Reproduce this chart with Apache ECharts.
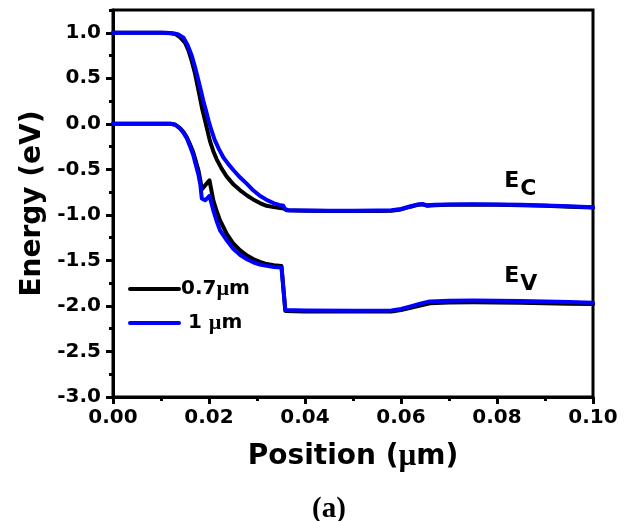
<!DOCTYPE html>
<html>
<head>
<meta charset="utf-8">
<script src="https://cdn.jsdelivr.net/npm/echarts@6/dist/echarts.min.js"></script>
<style>
  html, body { margin: 0; padding: 0; background: #fff; }
  #chart { width: 632px; height: 521px; }
</style>
</head>
<body>
<div id="chart"></div>
<script>
// Band edges across the device: [position (µm), energy (eV)]
const ecThin = [
  [0, 1.0], [0.010, 1.0], [0.012, 0.995], [0.013, 0.985], [0.014, 0.95], [0.015, 0.89],
  [0.0157, 0.81], [0.0164, 0.69], [0.0171, 0.55], [0.0176, 0.42], [0.0181, 0.29],
  [0.0186, 0.16], [0.0192, 0.03], [0.0197, -0.08], [0.0202, -0.19], [0.0209, -0.30],
  [0.0216, -0.39], [0.0226, -0.49], [0.0237, -0.58], [0.025, -0.66], [0.0265, -0.73],
  [0.028, -0.79], [0.0292, -0.83], [0.0306, -0.87], [0.032, -0.90], [0.0335, -0.915],
  [0.0348, -0.925], [0.0356, -0.93], [0.0362, -0.95], [0.040, -0.955], [0.045, -0.958],
  [0.050, -0.958], [0.055, -0.957], [0.058, -0.955], [0.060, -0.94], [0.062, -0.91],
  [0.0635, -0.89], [0.0645, -0.885], [0.0655, -0.90], [0.067, -0.895], [0.070, -0.89],
  [0.075, -0.888], [0.080, -0.89], [0.085, -0.895], [0.090, -0.90], [0.095, -0.91],
  [0.100, -0.92]
];
const evThin = [
  [0, 0], [0.012, 0], [0.013, -0.01], [0.014, -0.05], [0.0147, -0.09], [0.0154, -0.15],
  [0.016, -0.22], [0.0167, -0.31], [0.0172, -0.40], [0.0178, -0.51], [0.0182, -0.62],
  [0.0185, -0.72], [0.0201, -0.62], [0.0209, -0.84], [0.0216, -0.96], [0.0223, -1.06],
  [0.0237, -1.21], [0.025, -1.31], [0.0265, -1.39], [0.028, -1.45], [0.0292, -1.485],
  [0.0306, -1.515], [0.032, -1.54], [0.0335, -1.553], [0.0351, -1.56], [0.0359, -2.055],
  [0.040, -2.06], [0.050, -2.062], [0.058, -2.06], [0.060, -2.045], [0.062, -2.02],
  [0.064, -1.995], [0.066, -1.97], [0.070, -1.962], [0.075, -1.96], [0.080, -1.962],
  [0.085, -1.966], [0.090, -1.97], [0.095, -1.975], [0.100, -1.98]
];
const ecThick = [
  [0, 1.0], [0.011, 1.0], [0.0125, 0.995], [0.0135, 0.985], [0.0147, 0.946], [0.0155, 0.87],
  [0.0164, 0.75], [0.0171, 0.62], [0.0178, 0.476], [0.0183, 0.37], [0.0188, 0.256],
  [0.0194, 0.14], [0.0199, 0.036], [0.0205, -0.07], [0.0212, -0.18], [0.0221, -0.28],
  [0.023, -0.37], [0.024, -0.44], [0.0251, -0.51], [0.0265, -0.59], [0.0279, -0.66],
  [0.0292, -0.73], [0.0306, -0.79], [0.032, -0.835], [0.0334, -0.87], [0.0346, -0.89],
  [0.0355, -0.90], [0.0358, -0.935], [0.0365, -0.948], [0.040, -0.953], [0.045, -0.955],
  [0.050, -0.955], [0.055, -0.953], [0.058, -0.95], [0.060, -0.935], [0.062, -0.905],
  [0.0635, -0.885], [0.0644, -0.88], [0.0655, -0.895], [0.067, -0.89], [0.070, -0.885],
  [0.075, -0.883], [0.080, -0.885], [0.085, -0.89], [0.090, -0.898], [0.095, -0.906],
  [0.100, -0.915]
];
const evThick = [
  [0, 0], [0.012, 0], [0.013, -0.01], [0.014, -0.055], [0.0147, -0.10], [0.0154, -0.16],
  [0.016, -0.24], [0.0167, -0.34], [0.0172, -0.44], [0.0178, -0.56], [0.0182, -0.67],
  [0.0185, -0.82], [0.0192, -0.84], [0.0201, -0.79], [0.0209, -0.95], [0.0216, -1.07],
  [0.0223, -1.17], [0.0237, -1.28], [0.025, -1.37], [0.0265, -1.44], [0.028, -1.49],
  [0.0292, -1.52], [0.0306, -1.545], [0.032, -1.56], [0.0335, -1.572], [0.0351, -1.578],
  [0.0359, -2.045], [0.040, -2.05], [0.050, -2.052], [0.058, -2.05], [0.060, -2.033],
  [0.062, -2.005], [0.064, -1.975], [0.066, -1.95], [0.070, -1.942], [0.075, -1.94],
  [0.080, -1.942], [0.085, -1.947], [0.090, -1.952], [0.095, -1.958], [0.100, -1.965]
];

const seriesNames = ['0.7µm', '1 µm'];
const seriesColors = ['#000000', '#0000ff'];
const xRange = [0, 0.1];
const yRange = [-3, 1.25];
// anchors of the band labels, in data coordinates
const ecLabelAt = [0.0815, -0.63];
const evLabelAt = [0.0815, -1.67];

const FONT = '"DejaVu Sans", "Liberation Sans", Arial, sans-serif';
const SERIF = '"Liberation Serif", "Times New Roman", serif';
const black = '#000';

const chart = echarts.init(document.getElementById('chart'), null, { renderer: 'canvas' });

function bandSeries(name, color, data, z) {
  return {
    type: 'line', name, data, z,
    showSymbol: false, symbol: 'none', smooth: false,
    lineStyle: { color, width: 4, join: 'round', cap: 'round' },
    itemStyle: { color },
    emphasis: { disabled: true },
    animation: false
  };
}

const muRich = {
  mu: { fontFamily: SERIF, fontWeight: 'bold', fontSize: 22, color: black }
};

chart.setOption({
  animation: false,
  backgroundColor: '#fff',
  grid: {
    left: 113, right: 39, top: 10, bottom: 124,
    show: true, borderColor: black, borderWidth: 3, backgroundColor: 'transparent'
  },
  legend: {
    orient: 'vertical', left: 123, top: 273,
    itemWidth: 49, itemHeight: 20, itemGap: 12,
    itemStyle: { opacity: 0 },
    lineStyle: { width: 4 },
    data: seriesNames,
    formatter: (n) => (n === seriesNames[1] ? ' 1 {mu|µ}m' : '0.7{mu|µ}m'),
    textStyle: {
      fontFamily: FONT, fontWeight: 'bold', fontSize: 20, color: black, padding: [0, 0, 0, -3],
      rich: muRich
    }
  },
  xAxis: {
    type: 'value', min: xRange[0], max: xRange[1], interval: 0.02,
    name: 'Position ({mu|µ}m)', nameLocation: 'middle', nameGap: 44,
    nameTextStyle: {
      fontFamily: FONT, fontWeight: 'bold', fontSize: 28, color: black,
      rich: { mu: { fontFamily: SERIF, fontWeight: 'bold', fontSize: 31, color: black } }
    },
    axisLine: { show: true, onZero: false, lineStyle: { color: black, width: 3 } },
    axisTick: { show: true, inside: false, length: 7, lineStyle: { color: black, width: 3 } },
    minorTick: { show: true, splitNumber: 2, length: 4, lineStyle: { color: black, width: 3 } },
    splitLine: { show: false },
    axisLabel: {
      margin: 11, fontFamily: FONT, fontWeight: 'bold', fontSize: 20, color: black,
      formatter: (v) => v.toFixed(2)
    }
  },
  yAxis: [
    {
      type: 'value', min: yRange[0], max: yRange[1], interval: 0.5,
      name: 'Energy (eV)', nameLocation: 'middle', nameGap: 64, nameRotate: 90,
      nameTextStyle: { fontFamily: FONT, fontWeight: 'bold', fontSize: 28, color: black },
      axisLine: { show: true, onZero: false, lineStyle: { color: black, width: 3 } },
      axisTick: { show: true, inside: false, length: 7, lineStyle: { color: black, width: 3 } },
      splitLine: { show: false },
      axisLabel: {
        margin: 12, showMaxLabel: false, fontFamily: FONT, fontWeight: 'bold', fontSize: 20, color: black,
        formatter: (v) => v.toFixed(1)
      }
    },
    {
      // minor ticks every 0.25 eV
      type: 'value', min: yRange[0], max: yRange[1], interval: 0.25, position: 'left',
      axisLine: { show: false, onZero: false },
      axisTick: { show: true, inside: false, length: 4, lineStyle: { color: black, width: 3 } },
      axisLabel: { show: false },
      splitLine: { show: false }
    }
  ],
  series: [
    bandSeries(seriesNames[0], seriesColors[0], ecThin, 2),
    bandSeries(seriesNames[0], seriesColors[0], evThin, 2),
    bandSeries(seriesNames[1], seriesColors[1], ecThick, 3),
    bandSeries(seriesNames[1], seriesColors[1], evThick, 3)
  ]
});

// band labels E_C and E_V, and the panel tag
const ecPx = chart.convertToPixel({ gridIndex: 0 }, ecLabelAt);
const evPx = chart.convertToPixel({ gridIndex: 0 }, evLabelAt);
function bandLabel(p, sub) {
  return [
    { type: 'text', x: p[0], y: p[1], style: { text: 'E', font: 'bold 22px ' + FONT, fill: black, textAlign: 'left', textVerticalAlign: 'middle' } },
    { type: 'text', x: p[0] + 16, y: p[1] + 8, style: { text: sub, font: 'bold 22px ' + FONT, fill: black, textAlign: 'left', textVerticalAlign: 'middle' } }
  ];
}
chart.setOption({
  graphic: [
    ...bandLabel(ecPx, 'C'),
    ...bandLabel(evPx, 'V'),
    { type: 'text', left: 312, top: 495, style: { text: '(a)', font: 'bold 29px ' + SERIF, fill: black } }
  ]
});
</script>
</body>
</html>
